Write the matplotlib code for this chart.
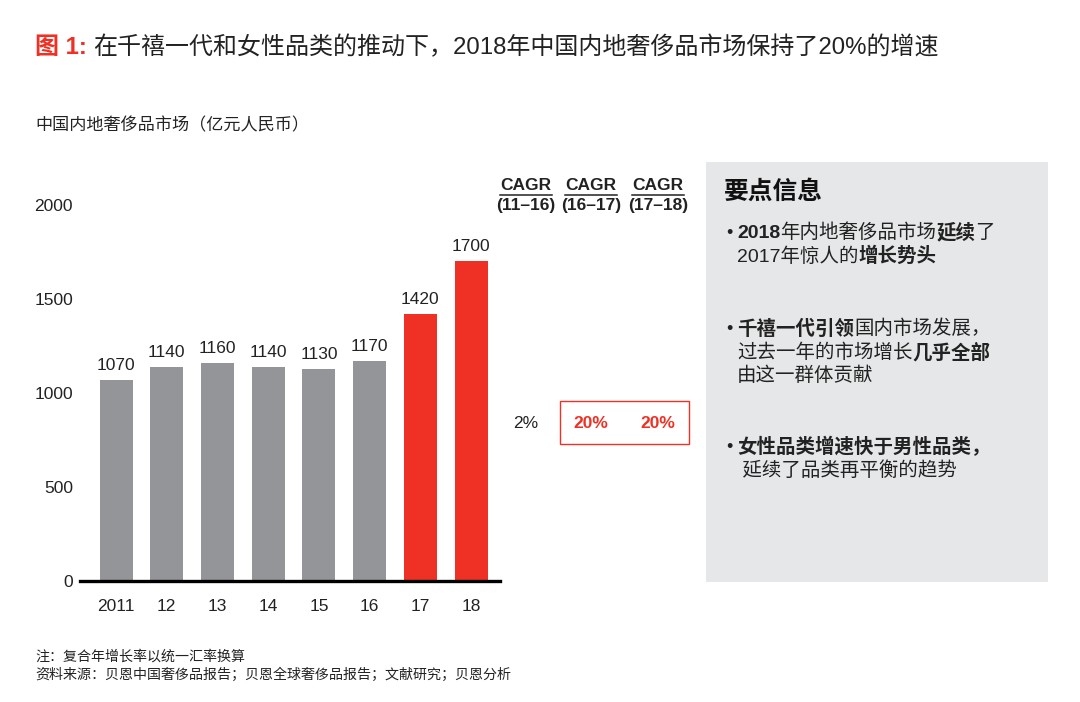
import matplotlib
matplotlib.use("Agg")
import matplotlib.pyplot as plt
from matplotlib.patches import Rectangle

plt.rcParams["font.family"] = ["Liberation Sans", "Noto Sans CJK SC", "DejaVu Sans"]

# data
years = ["2011", "12", "13", "14", "15", "16", "17", "18"]
market = [1070, 1140, 1160, 1140, 1130, 1170, 1420, 1700]
highlight = [False, False, False, False, False, False, True, True]
cagr_heads = ["(11–16)", "(16–17)", "(17–18)"]
cagr_vals = ["2%", "20%", "20%"]
yticks = [0, 500, 1000, 1500, 2000]

GREY = "#939598"
RED = "#EE3124"
PANEL = "#E6E7E8"
INK = "#222222"
W, H = 1080, 702

fig = plt.figure(figsize=(W / 100, H / 100), dpi=100)


def fx(px):
    return px / W


def fy(py):
    return 1 - py / H


# main bar axes: x 80..500 px, y 0 at 581 px, 2000 at 205 px
ax = fig.add_axes([fx(80), fy(581), fx(420), (581 - 205) / H])
colors = [RED if h else GREY for h in highlight]
xs = range(len(years))
ax.bar(xs, market, width=0.65, color=colors, zorder=2)
for x, v in zip(xs, market):
    ax.annotate(str(v), (x, v), xytext=(0, 5), textcoords="offset points",
                ha="center", va="bottom", fontsize=12.5, color=INK)
ax.set_xlim(-0.71, 7.57)
ax.set_ylim(0, 2000)
ax.set_yticks(yticks)
ax.set_xticks(list(xs))
ax.set_xticklabels(years)
ax.tick_params(axis="both", length=0, labelsize=12.5, colors=INK)
ax.tick_params(axis="x", pad=13)
ax.tick_params(axis="y", pad=5)
for s in ["top", "right", "left"]:
    ax.spines[s].set_visible(False)
ax.spines["bottom"].set_linewidth(2.4)
ax.spines["bottom"].set_color("black")
ax.patch.set_alpha(0)

renderer = fig.canvas.get_renderer()

# title
t = fig.text(fx(35), fy(48), "图 1:", color=RED, fontsize=17.3, fontweight="bold",
             va="center", ha="left")
bb = t.get_window_extent(renderer)
fig.text(bb.x1 / W + fx(6), fy(48),
         "在千禧一代和女性品类的推动下，2018年中国内地奢侈品市场保持了20%的增速",
         fontsize=17.3, va="center", ha="left", color=INK)
fig.text(fx(35), fy(125), "中国内地奢侈品市场（亿元人民币）", fontsize=12.3,
         va="center", ha="left", color=INK)

# CAGR columns
cagr_x = [526, 591, 658]
for cx, head in zip(cagr_x, cagr_heads):
    fig.text(fx(cx), fy(185), "CAGR", fontsize=12.5, fontweight="bold",
             ha="center", va="center", color=INK)
    fig.text(fx(cx), fy(206), head, fontsize=12.5, fontweight="bold",
             ha="center", va="center", color=INK)
    fig.add_artist(plt.Line2D([fx(cx - 26), fx(cx + 26)], [fy(195), fy(195)],
                              color=INK, lw=1.1))
for i, (cx, val) in enumerate(zip(cagr_x, cagr_vals)):
    red = i > 0
    fig.text(fx(cx), fy(423), val, fontsize=12.5,
             fontweight="bold" if red else "normal",
             color=RED if red else INK, ha="center", va="center")
fig.add_artist(Rectangle((fx(560), fy(444)), fx(129), (444 - 401) / H,
                         transform=fig.transFigure, fill=False,
                         edgecolor=RED, lw=1.0))

# key message panel
fig.add_artist(Rectangle((fx(706), fy(582)), fx(342), (582 - 162) / H,
                         transform=fig.transFigure, facecolor=PANEL,
                         edgecolor="none", zorder=0))
fig.text(fx(724), fy(192), "要点信息", fontsize=17.8, fontweight="bold",
         va="center", ha="left", color="#111111")


def runs(x_px, y_px, parts, size=14):
    x = x_px
    for txt, bold in parts:
        tt = fig.text(fx(x), fy(y_px), txt, fontsize=size,
                      fontweight="bold" if bold else "normal",
                      va="center", ha="left", color=INK)
        x = tt.get_window_extent(renderer).x1


bullets = [
    (233, [[("2018", True), ("年内地奢侈品市场", False), ("延续", True), ("了", False)],
           [("2017年惊人的", False), ("增长势头", True)]]),
    (329, [[("千禧一代引领", True), ("国内市场发展，", False)],
           [("过去一年的市场增长", False), ("几乎全部", True)],
           [("由这一群体贡献", False)]]),
    (447, [[("女性品类增速快于男性品类，", True)],
           [(" 延续了品类再平衡的趋势", False)]]),
]
for y0, lines in bullets:
    fig.text(fx(726), fy(y0), "•", fontsize=13, va="center", ha="left",
             color=INK)
    for j, parts in enumerate(lines):
        runs(737, y0 + j * 23.5, parts)

# notes
fig.text(fx(35), fy(657), "注：复合年增长率以统一汇率换算", fontsize=10.1,
         va="center", ha="left", color=INK)
fig.text(fx(35), fy(675), "资料来源：贝恩中国奢侈品报告；贝恩全球奢侈品报告；文献研究；贝恩分析",
         fontsize=10.1, va="center", ha="left", color=INK)

fig.savefig("out.png", dpi=100)
